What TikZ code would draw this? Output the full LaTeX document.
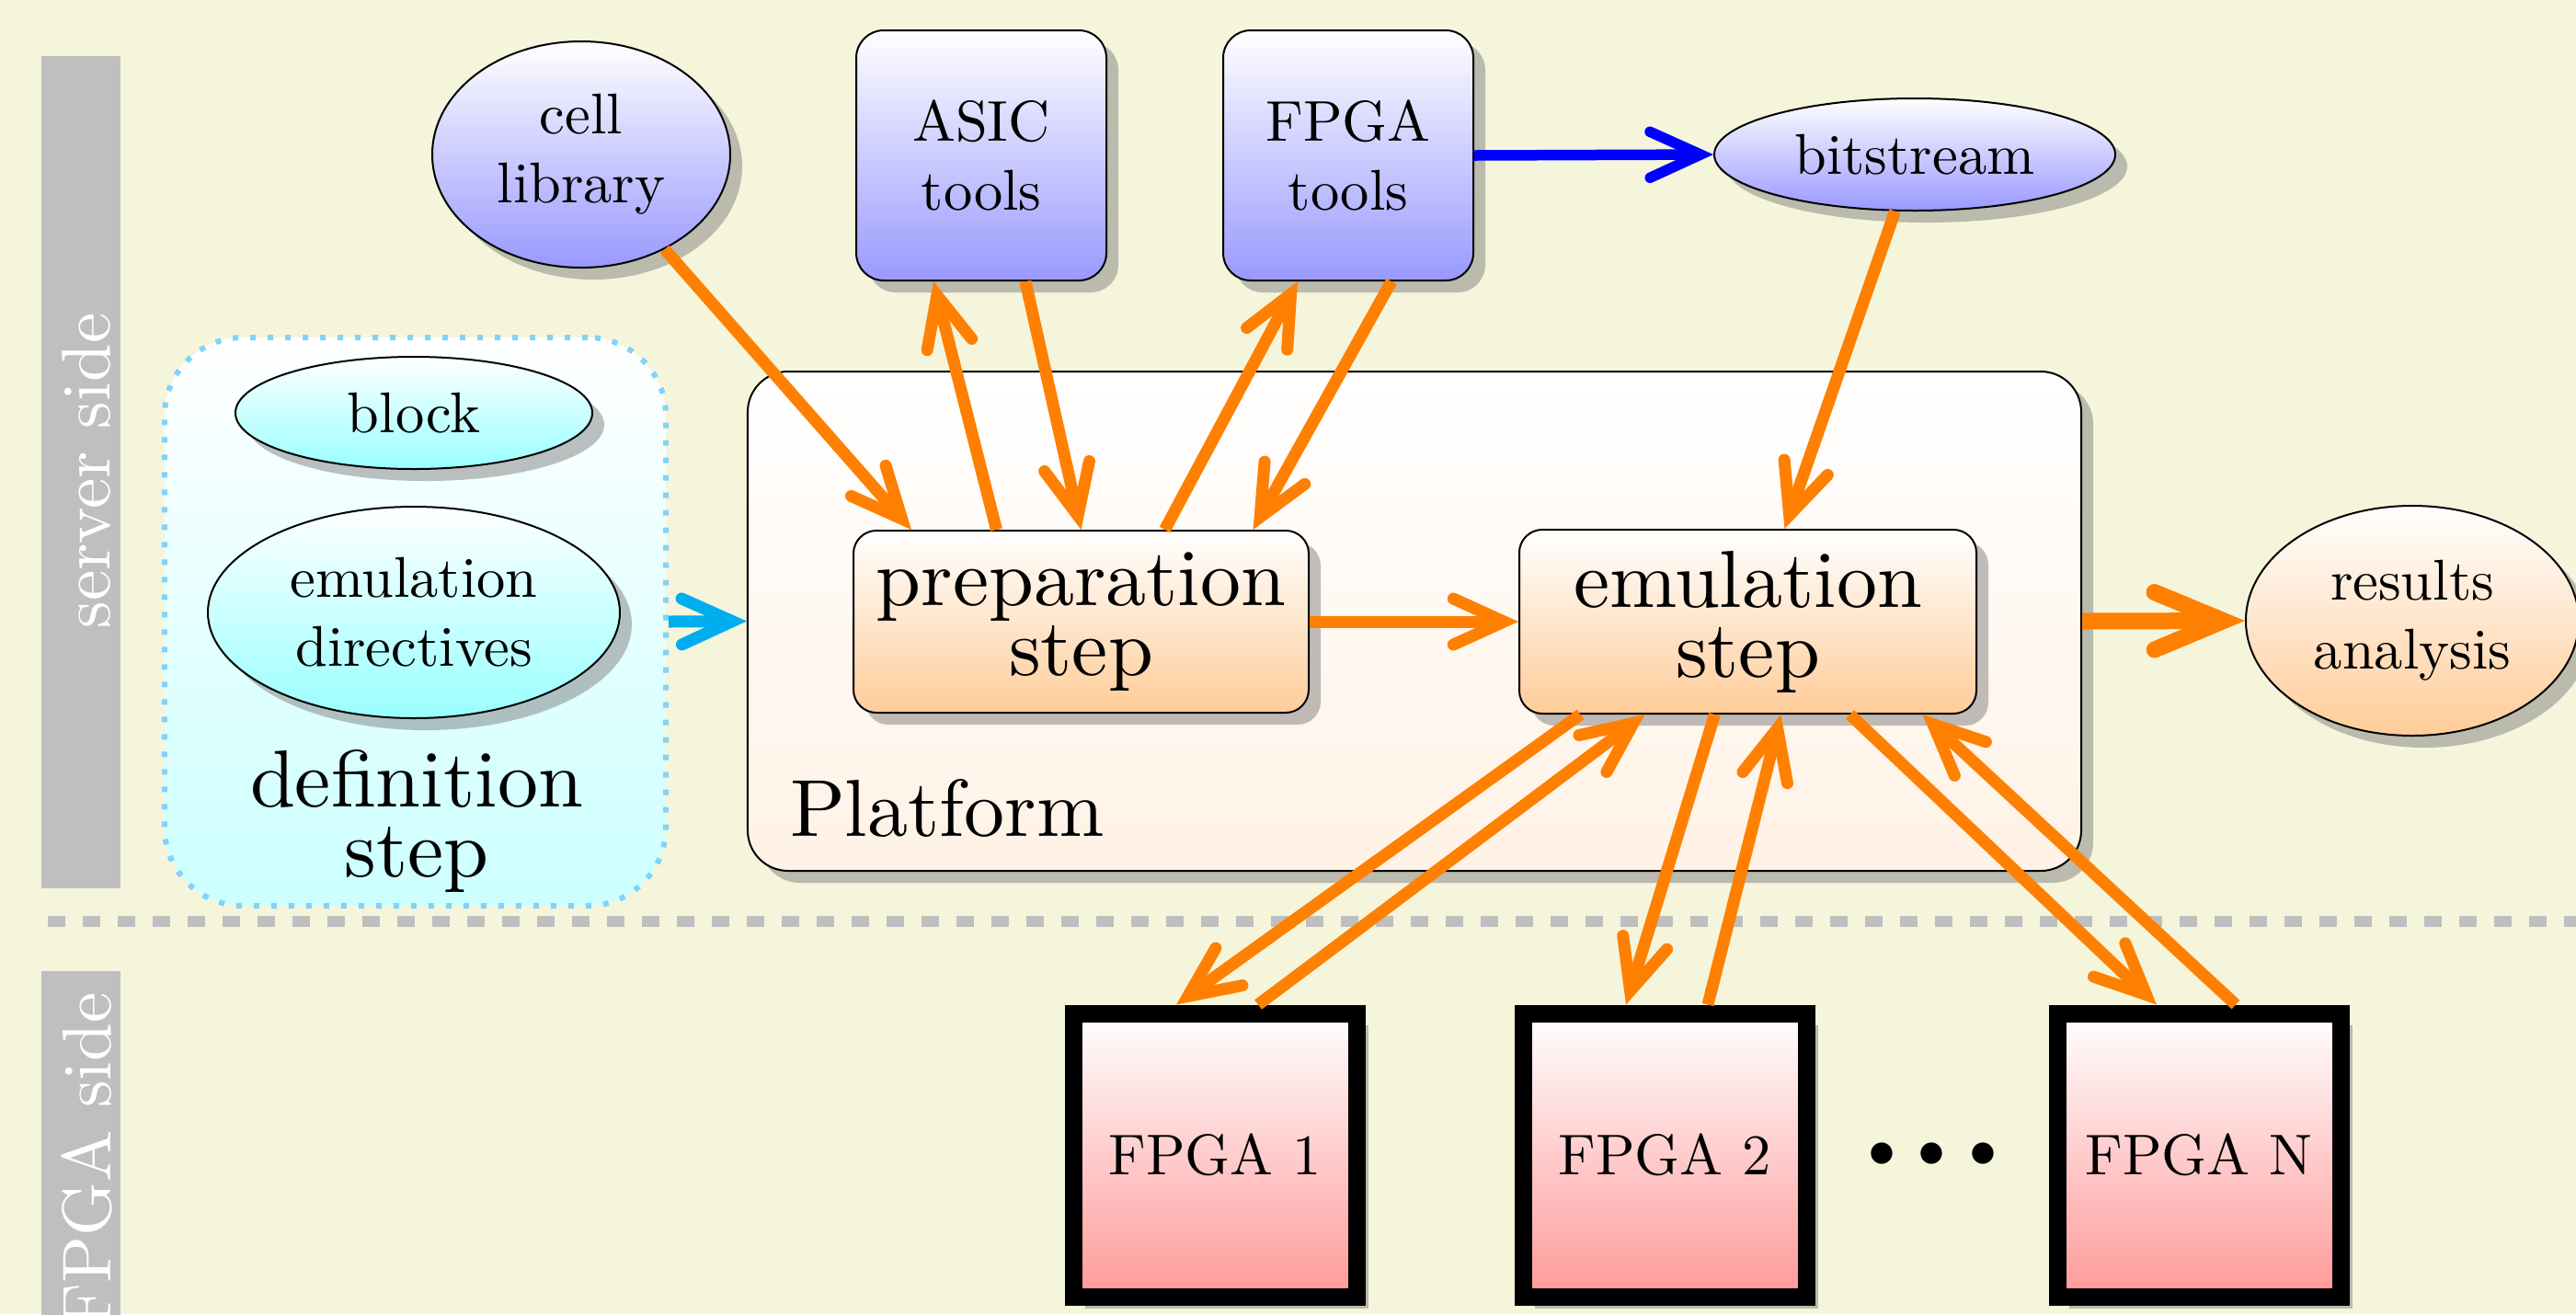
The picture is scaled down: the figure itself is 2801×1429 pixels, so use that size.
\documentclass[tikz,border=0pt]{standalone}
\usetikzlibrary{shapes.geometric,shadows,arrows.meta,calc}
\DeclareFontFamily{TU}{lmx}{}
\DeclareFontShape{TU}{lmx}{m}{n}{<-> "[lmroman10-regular]:mapping=tex-text;"}{}
\renewcommand{\rmdefault}{lmx}
\definecolor{bgc}{RGB}{245,245,220}
\definecolor{bandc}{RGB}{191,191,191}
\definecolor{defborder}{RGB}{130,210,250}
\definecolor{cyanarr}{RGB}{0,174,239}
\begin{document}
\begin{tikzpicture}[x=0.2pt,y=-0.2pt,
  smallfont/.style={font=\fontfamily{lmx}\fontsize{12.5}{15}\selectfont},
  bigfont/.style={font=\fontfamily{lmx}\fontsize{17.6}{15.2}\selectfont},
  shadowed/.style={drop shadow={shadow xshift=2.6pt,shadow yshift=-2.6pt,opacity=.5,fill=black!50}},
  blueell/.style={ellipse,draw,thin,shadowed,top color=white,bottom color=blue!40,inner sep=0pt,align=center,smallfont},
  bluebox/.style={rectangle,rounded corners=6pt,draw,thin,shadowed,top color=white,bottom color=blue!40,inner sep=0pt,align=center,smallfont,minimum width=54.4pt,minimum height=54.4pt},
  stepbox/.style={rectangle,rounded corners=5pt,draw,thin,shadowed,top color=white,bottom color=orange!40,inner sep=0pt,align=center,bigfont},
  cyanell/.style={ellipse,draw,thin,shadowed,top color=white,bottom color=cyan!40,inner sep=0pt,align=center,smallfont},
  fpgabox/.style={rectangle,draw,line width=3.8pt,shadowed,top color=white,bottom color=red!40,inner sep=0pt,minimum width=61.6pt,minimum height=61.6pt,smallfont},
  oarr/.style={draw=orange,line width=2.6pt,-{Straight Barb[length=11pt,width=10pt,line cap=round,line join=miter]}},
  bigarr/.style={draw=orange,line width=3.6pt,-{Straight Barb[length=15pt,width=12.5pt,line cap=round,line join=miter]}},
  bluearr/.style={draw=blue,line width=2.3pt,-{Straight Barb[length=11pt,width=10pt,line cap=round,line join=miter]}},
  cyanarrow/.style={draw=cyanarr,line width=2.6pt,-{Straight Barb[length=11pt,width=10pt,line cap=round,line join=miter]}},
  sidelabel/.style={text=white,rotate=90,inner sep=0pt,font=\fontfamily{lmx}\fontsize{15}{18}\selectfont}
]
\clip (0,0) rectangle (2801,1429);
\fill[bgc] (0,0) rectangle (2801,1429);

% side bands
\fill[bandc] (45,61) rectangle (131,966);
\fill[bandc] (45,1056) rectangle (131,1500);
\node[sidelabel] (srvlbl) at (94,512) {server side};
\node[sidelabel] (fpglbl) at (94,1262) {FPGA side};

% separator
\draw[bandc,line width=2.4pt,dash pattern=on 3.8pt off 3.8pt] (52,1002) -- (2801,1002);

% definition step
\node[rectangle,rounded corners=17pt,draw=defborder,line width=1.2pt,dash pattern=on 1.2pt off 2.6pt,top color=white,bottom color=cyan!20,minimum width=109pt,minimum height=123.6pt,inner sep=0pt] (def) at (451.5,676) {};
\node[cyanell,minimum width=77.6pt,minimum height=24.4pt] (block) at (450,449) {block};
\node[cyanell,minimum width=89.6pt,minimum height=46pt] (dirs) at (450,666) {emulation\\directives};
\node[bigfont,align=center,inner sep=0pt] (deftext) at (453,893) {definition\\step};

% platform
\node[rectangle,rounded corners=8.8pt,draw,thin,shadowed,top color=white,bottom color=orange!10,minimum width=290pt,minimum height=108.6pt,inner sep=0pt] (plat) at (1538,675.5) {};
\node[bigfont,anchor=base west,inner sep=0pt] (plattext) at (858,909) {Platform};

% top tools
\node[blueell,minimum width=64.8pt,minimum height=49.2pt] (cell) at (632,168) {cell\\library};
\node[bluebox] (asic) at (1067,169) {ASIC\\tools};
\node[bluebox] (ftools) at (1466,169) {FPGA\\tools};
\node[blueell,minimum width=87.2pt,minimum height=24.4pt] (bit) at (2082,168) {bitstream};

% steps
\node[stepbox,minimum width=99pt,minimum height=39.6pt] (prep) at (1175.5,676) {preparation\\step};
\node[stepbox,minimum width=99.4pt,minimum height=40pt] (emul) at (1900.5,676) {emulation\\step};
\node[ellipse,draw,thin,shadowed,top color=white,bottom color=orange!40,inner sep=0pt,align=center,smallfont,minimum width=72.4pt,minimum height=50pt] (res) at (2623,675) {results\\analysis};

% FPGAs
\node[fpgabox] (f1) at (1321,1256) {FPGA 1};
\node[fpgabox] (f2) at (1810,1256) {FPGA 2};
\node[fpgabox] (fn) at (2391,1256) {FPGA N};
\node[inner sep=0pt,font=\fontsize{12.5}{15}\selectfont] (dots) at (2101,1256) {$\bullet$\hspace{5pt}$\bullet$\hspace{5pt}$\bullet$};

% connectors
\draw[bluearr] (ftools.east) -- (bit.west);
\draw[cyanarrow] (def.east) -- (plat.west);
\draw[oarr] (cell) -- ($(prep.north west)+(64,0)$);
\draw[oarr] ($(prep.north)+(-92,0)$) -- ($(asic.south)+(-52,0)$);
\draw[oarr] ($(asic.south)+(48,0)$) -- (prep.north);
\draw[oarr] ($(prep.north)+(91,0)$) -- ($(ftools.south)+(-55,0)$);
\draw[oarr] ($(ftools.south)+(47,0)$) -- ($(prep.north)+(187,0)$);
\draw[oarr] (bit) -- ($(emul.north)+(40,0)$);
\draw[oarr] (prep.east) -- (emul.west);
\draw[bigarr] (plat.east) -- (res.west);
\draw[oarr] ($(emul.south)+(-182,0)$) -- ($(f1.north)+(-42,0)$);
\draw[oarr] ($(f1.north)+(47,0)$) -- ($(emul.south)+(-112,0)$);
\draw[oarr] ($(emul.south)+(-36,0)$) -- ($(f2.north)+(-42,0)$);
\draw[oarr] ($(f2.north)+(47,0)$) -- ($(emul.south)+(36,0)$);
\draw[oarr] ($(emul.south)+(111,0)$) -- ($(fn.north)+(-46,0)$);
\draw[oarr] ($(fn.north)+(40,0)$) -- ($(emul.south)+(190,0)$);
\end{tikzpicture}
\end{document}
